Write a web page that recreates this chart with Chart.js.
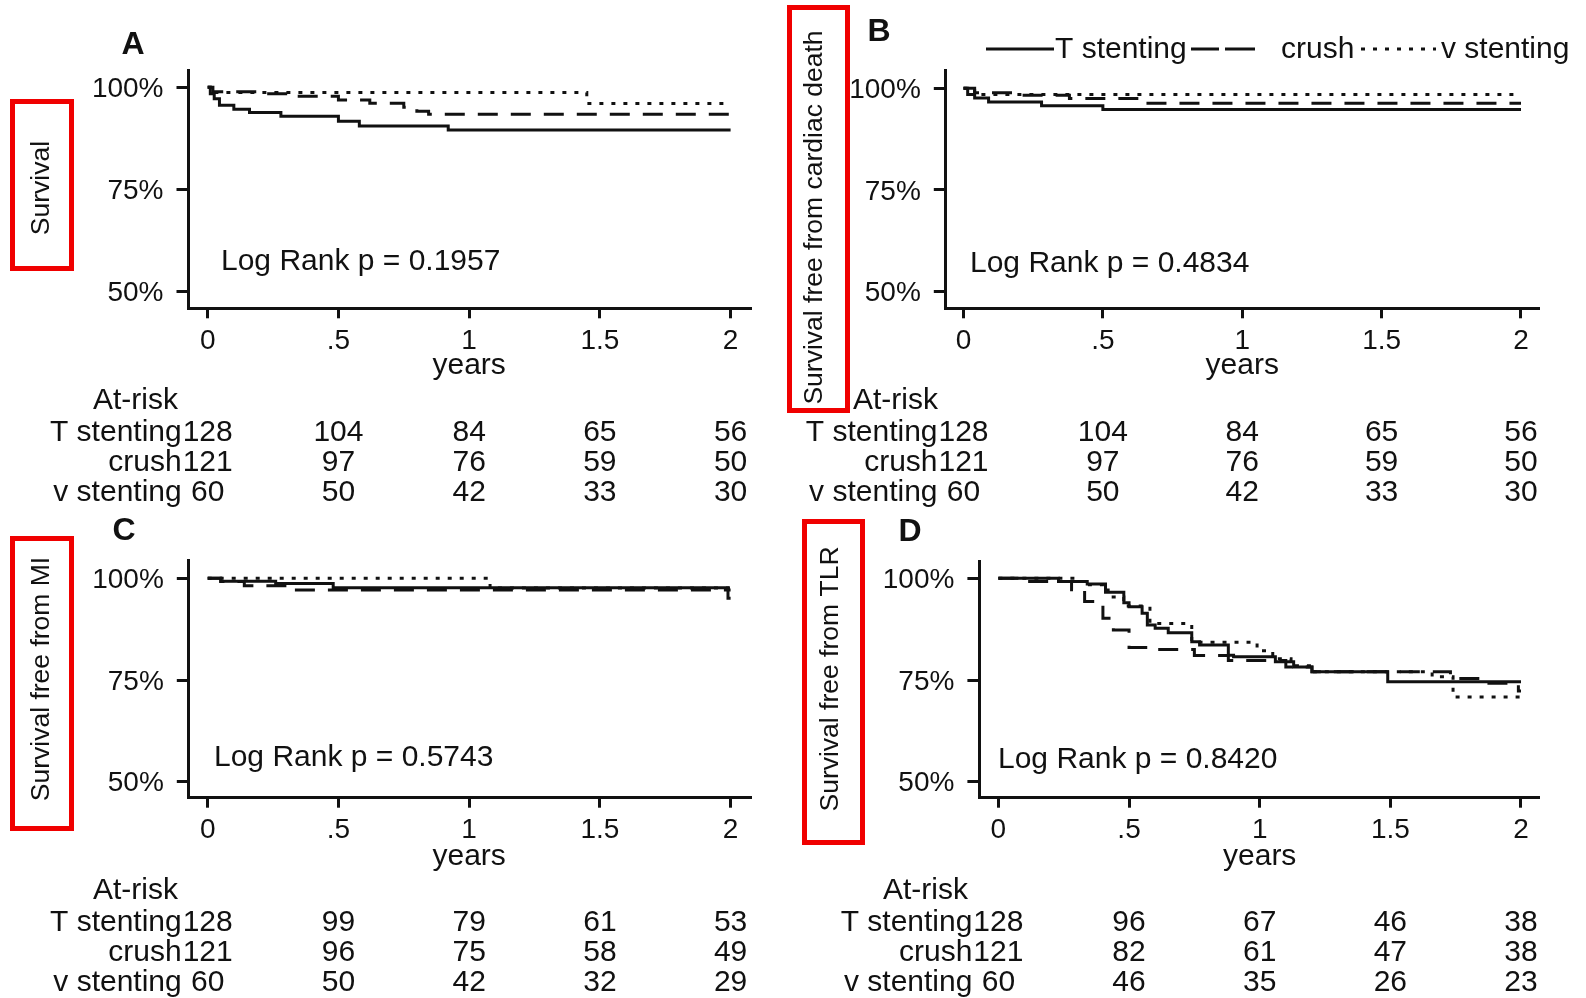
<!DOCTYPE html>
<html><head><meta charset="utf-8">
<script src="https://cdn.jsdelivr.net/npm/chart.js@4/dist/chart.umd.min.js"></script>
<style>
html,body{margin:0;padding:0;background:#fff;width:1586px;height:998px;overflow:hidden;}
canvas{position:absolute;}
</style></head><body>
<canvas id="cA" width="793" height="520" style="left:0px;top:0px"></canvas>
<canvas id="cB" width="816" height="520" style="left:770px;top:0px"></canvas>
<canvas id="cC" width="793" height="499" style="left:0px;top:499px"></canvas>
<canvas id="cD" width="816" height="499" style="left:770px;top:499px"></canvas>
<script>
// ---------- shared labels ----------
const xTickValues = [0, 0.5, 1, 1.5, 2];
const xTickLabels = ['0', '.5', '1', '1.5', '2'];
const yTickValues = [50, 75, 100];
const yTickLabels = ['50%', '75%', '100%'];
const groupNames = ['T stenting', 'crush', 'v stenting'];
const atRiskHeader = 'At-risk';
const xTitle = 'years';

// ---------- Panel A : Survival ----------
const aTimesT = [0, 0.01, 0.025, 0.045, 0.1, 0.16, 0.28, 0.5, 0.58, 0.92];
const aSurvT  = [100, 98.4, 97.2, 95.6, 94.6, 93.8, 92.9, 91.7, 90.5, 89.5];
const aTimesC = [0, 0.02, 0.18, 0.35, 0.5, 0.62, 0.75, 0.8, 0.845];
const aSurvC  = [100, 98.9, 98.4, 97.8, 96.9, 96.1, 95.1, 94.1, 93.4];
const aTimesV = [0, 0.03, 1.45];
const aSurvV  = [100, 98.7, 96.0];
const aRiskT = [128, 104, 84, 65, 56];
const aRiskC = [121, 97, 76, 59, 50];
const aRiskV = [60, 50, 42, 33, 30];

// ---------- Panel B : Survival free from cardiac death ----------
const bTimesT = [0, 0.015, 0.04, 0.09, 0.28, 0.5];
const bSurvT  = [100, 98.5, 97.6, 96.6, 95.7, 94.8];
const bTimesC = [0, 0.04, 0.2, 0.38, 0.64];
const bSurvC  = [100, 98.9, 98.3, 97.5, 96.3];
const bTimesV = [0, 0.04];
const bSurvV  = [100, 98.5];
const bRiskT = [128, 104, 84, 65, 56];
const bRiskC = [121, 97, 76, 59, 50];
const bRiskV = [60, 50, 42, 33, 30];

// ---------- Panel C : Survival free from MI ----------
const cTimesT = [0, 0.05, 0.26, 0.48, 1.99];
const cSurvT  = [100, 99.3, 98.7, 97.7, 95.1];
const cTimesC = [0, 0.05, 0.14, 0.33];
const cSurvC  = [100, 99.2, 98.2, 97.1];
const cTimesV = [0, 1.08];
const cSurvV  = [100, 97.6];
const cRiskT = [128, 99, 79, 61, 53];
const cRiskC = [121, 96, 75, 58, 49];
const cRiskV = [60, 50, 42, 32, 29];

// ---------- Panel D : Survival free from TLR ----------
const dTimesT = [0, 0.23, 0.34, 0.41, 0.48, 0.5, 0.55, 0.57, 0.6, 0.65, 0.74, 0.77, 0.88, 0.9, 1.06, 1.13, 1.2, 1.49];
const dSurvT  = [100, 99.2, 98.6, 96.6, 94.0, 93.0, 91.4, 88.5, 87.7, 86.6, 84.4, 83.6, 81.1, 80.7, 79.5, 78.2, 77.0, 74.6];
const dTimesC = [0, 0.1, 0.28, 0.33, 0.4, 0.44, 0.5, 0.6, 0.75, 0.88, 1.1, 1.2, 1.73, 1.85, 1.99];
const dSurvC  = [100, 99.2, 97.2, 94.3, 90.2, 87.3, 83.0, 82.5, 81.0, 79.8, 78.2, 77.0, 75.4, 74.2, 72.3];
const dTimesV = [0, 0.3, 0.34, 0.42, 0.48, 0.58, 0.74, 0.99, 1.05, 1.12, 1.2, 1.66, 1.74];
const dSurvV  = [100, 99.2, 98.4, 95.4, 93.2, 88.9, 84.3, 82.2, 80.2, 78.5, 77.0, 75.8, 70.8];
const dRiskT = [128, 96, 67, 46, 38];
const dRiskC = [121, 82, 61, 47, 38];
const dRiskV = [60, 46, 35, 26, 23];

const logRankA = 'Log Rank p = 0.1957';
const logRankB = 'Log Rank p = 0.4834';
const logRankC = 'Log Rank p = 0.5743';
const logRankD = 'Log Rank p = 0.8420';

// ---------- styling / layout ----------
const INK = '#111111';
const RED = '#f00000';
const FAM = '"Liberation Sans", Arial, Helvetica, sans-serif';
const FONT30 = '30px ' + FAM;
const lineStyles = [
  { borderDash: [] },
  { borderDash: [20, 13] },
  { borderDash: [4, 8] }
];

const panels = [
  { id: 'cA', ox: 0, oy: 0, h: 520, letter: 'A', yTitle: 'Survival', logRank: logRankA,
    series: [[aTimesT, aSurvT], [aTimesC, aSurvC], [aTimesV, aSurvV]], risk: [aRiskT, aRiskC, aRiskV],
    xMin: -0.0734, xMax: 2.0742, yMin: 45.78, yMax: 104.25,
    pad: { left: 0, right: 43, top: 70, bottom: 161.7 }, yW: 188.5,
    letterXY: [133, 45], logXY: [221, 262], yearsY: 366, atRiskXY: [93, 401], rowY: [433, 463, 493],
    box: [10, 99, 74, 271], titleXY: [41.5, 188] },
  { id: 'cB', ox: 770, oy: 0, h: 520, letter: 'B', yTitle: 'Survival free from cardiac death', logRank: logRankB,
    series: [[bTimesT, bSurvT], [bTimesC, bSurvC], [bTimesV, bSurvV]], risk: [bRiskT, bRiskC, bRiskV],
    xMin: -0.0635, xMax: 2.061, yMin: 45.87, yMax: 104.5,
    pad: { left: 0, right: 48, top: 70, bottom: 161.7 }, yW: 175.8,
    letterXY: [879, 32], logXY: [970, 264], yearsY: 366, atRiskXY: [853, 401], rowY: [433, 463, 493],
    box: [787, 5, 850, 413], titleXY: [815, 217.5], legend: true },
  { id: 'cC', ox: 0, oy: 499, h: 499, letter: 'C', yTitle: 'Survival free from MI', logRank: logRankC,
    series: [[cTimesT, cSurvT], [cTimesC, cSurvC], [cTimesV, cSurvV]], risk: [cRiskT, cRiskC, cRiskV],
    xMin: -0.0723, xMax: 2.0742, yMin: 46.07, yMax: 104.5,
    pad: { left: 0, right: 43, top: 61, bottom: 150.3 }, yW: 188.8,
    letterXY: [124, 531], logXY: [214, 758], yearsY: 857, atRiskXY: [93, 891], rowY: [922.5, 952.5, 982.5],
    box: [10, 536, 74, 831], titleXY: [42, 679] },
  { id: 'cD', ox: 770, oy: 499, h: 499, letter: 'D', yTitle: 'Survival free from TLR', logRank: logRankD,
    series: [[dTimesT, dSurvT], [dTimesC, dSurvC], [dTimesV, dSurvV]], risk: [dRiskT, dRiskC, dRiskV],
    xMin: -0.0727, xMax: 2.0651, yMin: 46.07, yMax: 104.08,
    pad: { left: 0, right: 48, top: 62.7, bottom: 150.3 }, yW: 209.4,
    letterXY: [910, 532], logXY: [998, 760], yearsY: 857, atRiskXY: [883, 891], rowY: [922.5, 952.5, 982.5],
    box: [802, 519, 865, 845], titleXY: [831, 679] }
];

// Kaplan-Meier step points from event times / survival values, carried to end of follow-up
function kmPoints(times, surv, end) {
  const pts = times.map((t, i) => ({ x: t, y: surv[i] }));
  pts.push({ x: end, y: surv[surv.length - 1] });
  return pts;
}

function drawLegend(ctx, ox, oy) {
  const y = 49 - oy;
  ctx.save();
  ctx.strokeStyle = INK; ctx.lineWidth = 3; ctx.lineCap = 'butt';
  ctx.beginPath(); ctx.moveTo(986 - ox, y); ctx.lineTo(1054 - ox, y); ctx.stroke();
  ctx.beginPath(); ctx.moveTo(1191 - ox, y); ctx.lineTo(1219 - ox, y); ctx.moveTo(1225 - ox, y); ctx.lineTo(1255 - ox, y); ctx.stroke();
  ctx.setLineDash([4, 8]);
  ctx.beginPath(); ctx.moveTo(1361 - ox, y); ctx.lineTo(1436 - ox, y); ctx.stroke();
  ctx.setLineDash([]);
  ctx.fillStyle = INK; ctx.font = FONT30; ctx.textAlign = 'left'; ctx.textBaseline = 'middle';
  ctx.fillText(groupNames[0], 1055 - ox, y + 1);
  ctx.fillText(groupNames[1], 1281 - ox, y + 1);
  ctx.fillText(groupNames[2], 1441 - ox, y + 1);
  ctx.restore();
}

function annotPlugin(p) {
  return {
    id: 'annot' + p.letter,
    afterDraw(chart) {
      const ctx = chart.ctx, xs = chart.scales.x;
      const ox = p.ox, oy = p.oy;
      ctx.save();
      ctx.fillStyle = INK;
      const txt = (s, gx, gy, align, font) => {
        ctx.font = font; ctx.textAlign = align; ctx.textBaseline = 'middle';
        ctx.fillText(s, gx - ox, gy - oy);
      };
      txt(p.letter, p.letterXY[0], p.letterXY[1], 'center', 'bold 32px ' + FAM);
      txt(p.logRank, p.logXY[0], p.logXY[1], 'left', FONT30);
      txt(xTitle, xs.getPixelForValue(1) + ox, p.yearsY, 'center', FONT30);
      txt(atRiskHeader, p.atRiskXY[0], p.atRiskXY[1], 'left', FONT30);
      p.risk.forEach((row, r) => {
        const y = p.rowY[r];
        txt(groupNames[r], xs.getPixelForValue(0) + ox - 26, y, 'right', FONT30);
        row.forEach((n, i) => txt(String(n), xs.getPixelForValue(xTickValues[i]) + ox, y, 'center', FONT30));
      });
      // y-axis title inside red frame
      const b = p.box;
      ctx.strokeStyle = RED; ctx.lineWidth = 5;
      ctx.strokeRect(b[0] + 2.5 - ox, b[1] + 2.5 - oy, b[2] - b[0] - 5, b[3] - b[1] - 5);
      ctx.save();
      ctx.translate(p.titleXY[0] - ox, p.titleXY[1] - oy);
      ctx.rotate(-Math.PI / 2);
      ctx.font = '26.5px ' + FAM; ctx.textAlign = 'center'; ctx.textBaseline = 'middle';
      ctx.fillStyle = INK;
      ctx.fillText(p.yTitle, 0, 0);
      ctx.restore();
      if (p.legend) drawLegend(ctx, ox, oy);
      ctx.restore();
    }
  };
}

Chart.defaults.font.family = FAM;
Chart.defaults.color = INK;

panels.forEach(p => {
  const datasets = p.series.map((s, i) => Object.assign({
    label: groupNames[i],
    data: kmPoints(s[0], s[1], 2),
    borderColor: INK,
    borderWidth: 3,
    pointRadius: 0,
    pointHoverRadius: 0,
    fill: false,
    stepped: 'before',
    tension: 0,
    borderCapStyle: 'butt'
  }, lineStyles[i]));

  new Chart(document.getElementById(p.id), {
    type: 'line',
    data: { datasets },
    plugins: [annotPlugin(p)],
    options: {
      responsive: false,
      animation: false,
      devicePixelRatio: 1,
      layout: { padding: p.pad },
      plugins: { legend: { display: false }, tooltip: { enabled: false }, title: { display: false } },
      scales: {
        x: {
          type: 'linear', min: p.xMin, max: p.xMax,
          afterBuildTicks: s => { s.ticks = xTickValues.map(v => ({ value: v })); },
          afterFit: s => { s.height = 50; },
          ticks: {
            callback: v => xTickLabels[xTickValues.indexOf(v)],
            font: { size: 28, lineHeight: 1 }, color: INK, padding: 9, maxRotation: 0, autoSkip: false
          },
          grid: { drawOnChartArea: false, drawTicks: true, tickLength: 10, color: INK, lineWidth: 3 },
          border: { display: true, color: INK, width: 3 }
        },
        y: {
          type: 'linear', min: p.yMin, max: p.yMax,
          afterBuildTicks: s => { s.ticks = yTickValues.map(v => ({ value: v })); },
          afterFit: s => { s.width = p.yW; },
          ticks: {
            callback: v => yTickLabels[yTickValues.indexOf(v)],
            font: { size: 28, lineHeight: 1 }, color: INK, padding: 13, labelOffset: 2, autoSkip: false
          },
          grid: { drawOnChartArea: false, drawTicks: true, tickLength: 12, color: INK, lineWidth: 3 },
          border: { display: true, color: INK, width: 3 }
        }
      }
    }
  });
});
</script>
</body></html>
